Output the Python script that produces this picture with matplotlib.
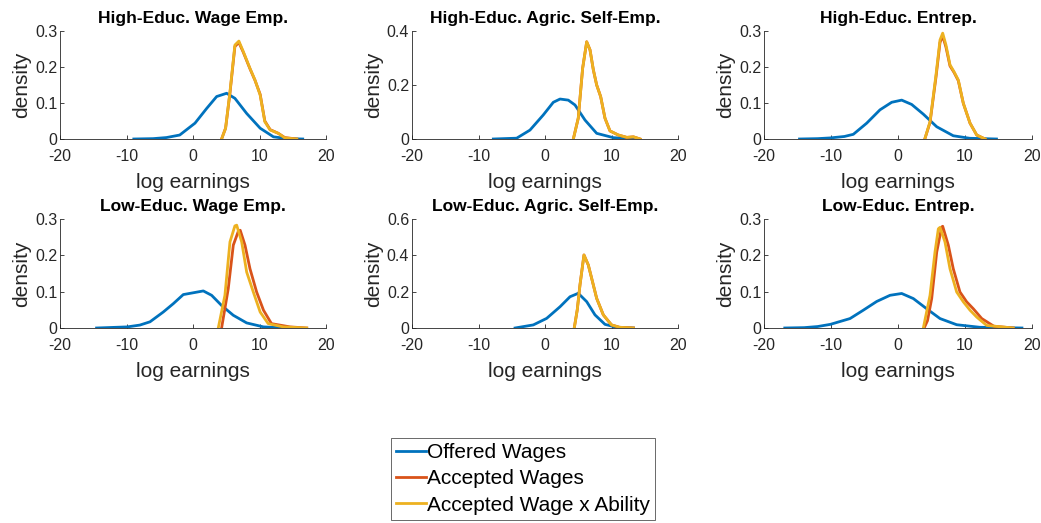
import numpy as np
import matplotlib.pyplot as plt
from matplotlib.ticker import FixedLocator

plt.rcParams['font.family'] = ['Liberation Sans', 'DejaVu Sans']

# MATLAB default line colours
C_OFF = '#0072BD'
C_ACC = '#D95319'
C_ABL = '#EDB120'

titles = ['High-Educ. Wage Emp.', 'High-Educ. Agric. Self-Emp.', 'High-Educ. Entrep.',
          'Low-Educ. Wage Emp.', 'Low-Educ. Agric. Self-Emp.', 'Low-Educ. Entrep.']
series_names = ['Offered Wages', 'Accepted Wages', 'Accepted Wage x Ability']

# ---- densities (x = log earnings, y = density) ----
# High-Educ. Wage Emp.
he_wage_off_x = [-8.9, -6.0, -4.0, -2.0, 0.3, 2.06, 3.56, 5.06, 6.3, 8.07, 10.1, 12.1, 14.2, 16.5]
he_wage_off_y = [0.0, 0.001, 0.004, 0.011, 0.044, 0.085, 0.118, 0.127, 0.113, 0.071, 0.030, 0.006, 0.001, 0.0]
he_wage_acc_x = [4.3, 4.9, 5.56, 6.3, 6.9, 7.56, 8.57, 9.32, 10.1, 10.8, 11.6, 12.8, 13.8, 15.6]
he_wage_acc_y = [0.0, 0.03, 0.128, 0.257, 0.268, 0.241, 0.195, 0.163, 0.124, 0.05, 0.026, 0.016, 0.004, 0.0]
he_wage_abl_x = [4.3, 4.9, 5.56, 6.3, 6.9, 7.56, 8.57, 9.32, 10.1, 10.8, 11.6, 12.8, 13.8, 15.6]
he_wage_abl_y = [0.0, 0.03, 0.131, 0.261, 0.272, 0.243, 0.196, 0.164, 0.122, 0.048, 0.025, 0.016, 0.003, 0.0]

# High-Educ. Agric. Self-Emp.
he_agr_off_x = [-7.77, -4.26, -2.26, -0.26, 1.25, 2.26, 3.5, 4.51, 6.02, 7.77, 10.27, 13.3]
he_agr_off_y = [0.0, 0.003, 0.033, 0.089, 0.136, 0.148, 0.144, 0.126, 0.07, 0.021, 0.005, 0.0]
he_agr_acc_x = [4.26, 5.0, 5.66, 6.27, 6.77, 7.27, 7.77, 8.37, 9.02, 9.77, 11.0, 12.3, 13.3, 14.3]
he_agr_acc_y = [0.0, 0.077, 0.262, 0.36, 0.33, 0.256, 0.2, 0.157, 0.077, 0.03, 0.015, 0.006, 0.008, 0.0]
he_agr_abl_x = [4.26, 5.0, 5.66, 6.27, 6.77, 7.27, 7.77, 8.37, 9.02, 9.77, 11.0, 12.3, 13.3, 14.3]
he_agr_abl_y = [0.0, 0.077, 0.262, 0.36, 0.33, 0.256, 0.2, 0.157, 0.077, 0.03, 0.015, 0.006, 0.008, 0.0]

# High-Educ. Entrep.
he_ent_off_x = [-14.7, -12.0, -10.1, -8.0, -6.67, -4.67, -2.69, -0.94, 0.55, 2.04, 3.78, 5.78, 8.25, 10.7, 14.7]
he_ent_off_y = [0.0, 0.001, 0.003, 0.007, 0.013, 0.044, 0.081, 0.102, 0.108, 0.096, 0.069, 0.034, 0.009, 0.002, 0.0]
he_ent_acc_x = [4.0, 4.78, 5.67, 6.27, 6.67, 7.16, 7.76, 8.36, 9.0, 9.75, 10.75, 11.75, 13.0]
he_ent_acc_y = [0.0, 0.046, 0.172, 0.268, 0.286, 0.255, 0.203, 0.185, 0.162, 0.099, 0.044, 0.011, 0.0]
he_ent_abl_x = [4.0, 4.78, 5.67, 6.27, 6.67, 7.16, 7.76, 8.36, 9.0, 9.75, 10.75, 11.75, 13.0]
he_ent_abl_y = [0.0, 0.048, 0.178, 0.275, 0.294, 0.261, 0.206, 0.187, 0.164, 0.099, 0.044, 0.011, 0.0]

# Low-Educ. Wage Emp.
le_wage_off_x = [-14.5, -9.9, -8.0, -6.47, -4.47, -2.96, -1.46, 0.05, 1.55, 2.8, 4.3, 6.06, 8.07, 10.6, 14.2]
le_wage_off_y = [0.0, 0.003, 0.008, 0.017, 0.044, 0.067, 0.092, 0.097, 0.102, 0.09, 0.062, 0.035, 0.014, 0.003, 0.0]
le_wage_acc_x = [4.3, 5.3, 6.06, 6.81, 7.1, 7.82, 8.57, 9.57, 10.6, 11.8, 14.6, 17.1]
le_wage_acc_y = [0.0, 0.108, 0.228, 0.266, 0.269, 0.228, 0.163, 0.099, 0.049, 0.012, 0.003, 0.0]
le_wage_abl_x = [3.8, 4.8, 5.56, 6.3, 6.57, 7.32, 8.07, 9.07, 10.1, 11.3, 13.6, 17.1]
le_wage_abl_y = [0.0, 0.09, 0.237, 0.281, 0.283, 0.237, 0.154, 0.099, 0.044, 0.012, 0.003, 0.0]

# Low-Educ. Agric. Self-Emp.
le_agr_off_x = [-4.5, -1.76, 0.25, 2.26, 3.76, 5.0, 6.27, 7.52, 9.02, 10.75, 13.3]
le_agr_off_y = [0.0, 0.017, 0.053, 0.117, 0.172, 0.191, 0.145, 0.072, 0.02, 0.004, 0.0]
le_agr_acc_x = [4.4, 4.85, 5.26, 5.86, 6.51, 7.02, 7.77, 8.77, 10.0, 11.2, 13.3]
le_agr_acc_y = [0.0, 0.1, 0.237, 0.402, 0.347, 0.273, 0.163, 0.072, 0.017, 0.004, 0.0]
le_agr_abl_x = [4.4, 4.85, 5.26, 5.86, 6.51, 7.02, 7.77, 8.77, 10.0, 11.2, 13.3]
le_agr_abl_y = [0.0, 0.1, 0.237, 0.402, 0.347, 0.273, 0.163, 0.072, 0.017, 0.004, 0.0]

# Low-Educ. Entrep.
le_ent_off_x = [-16.9, -14.0, -12.0, -10.1, -7.16, -5.18, -3.18, -1.19, 0.55, 2.29, 4.28, 6.27, 8.76, 12.2, 18.5]
le_ent_off_y = [0.0, 0.001, 0.004, 0.01, 0.026, 0.049, 0.073, 0.09, 0.095, 0.081, 0.053, 0.026, 0.009, 0.002, 0.0]
le_ent_acc_x = [3.9, 4.4, 5.03, 5.78, 6.52, 6.67, 7.51, 8.25, 9.25, 10.25, 11.24, 12.5, 14.3, 17.2]
le_ent_acc_y = [0.0, 0.02, 0.081, 0.209, 0.278, 0.28, 0.228, 0.163, 0.099, 0.072, 0.053, 0.026, 0.005, 0.0]
le_ent_abl_x = [3.78, 4.78, 5.52, 6.02, 6.27, 7.01, 7.76, 8.76, 9.75, 10.75, 11.75, 13.24, 17.2]
le_ent_abl_y = [0.0, 0.09, 0.209, 0.273, 0.277, 0.237, 0.163, 0.099, 0.072, 0.049, 0.03, 0.007, 0.0]

panels = [
    (he_wage_off_x, he_wage_off_y, he_wage_acc_x, he_wage_acc_y, he_wage_abl_x, he_wage_abl_y),
    (he_agr_off_x, he_agr_off_y, he_agr_acc_x, he_agr_acc_y, he_agr_abl_x, he_agr_abl_y),
    (he_ent_off_x, he_ent_off_y, he_ent_acc_x, he_ent_acc_y, he_ent_abl_x, he_ent_abl_y),
    (le_wage_off_x, le_wage_off_y, le_wage_acc_x, le_wage_acc_y, le_wage_abl_x, le_wage_abl_y),
    (le_agr_off_x, le_agr_off_y, le_agr_acc_x, le_agr_acc_y, le_agr_abl_x, le_agr_abl_y),
    (le_ent_off_x, le_ent_off_y, le_ent_acc_x, le_ent_acc_y, le_ent_abl_x, le_ent_abl_y),
]
y_ticks = [[0, 0.1, 0.2, 0.3], [0, 0.2, 0.4], [0, 0.1, 0.2, 0.3],
           [0, 0.1, 0.2, 0.3], [0, 0.2, 0.4, 0.6], [0, 0.1, 0.2, 0.3]]
x_ticks = [-20, -10, 0, 10, 20]

# axes boxes in pixels (left, right, top, bottom)
W, H = 1041, 523
cols = [(60, 326), (412, 678), (764, 1032)]
rows = [(31, 139), (219, 328)]

fig = plt.figure(figsize=(W / 100, H / 100), dpi=100)
AX_COL = '#262626'

lines = None
for i, p in enumerate(panels):
    l, r = cols[i % 3]
    t, b = rows[i // 3]
    ax = fig.add_axes([l / W, 1 - b / H, (r - l) / W, (b - t) / H])
    h1, = ax.plot(p[0], p[1], color=C_OFF, lw=2, solid_joinstyle='round')
    h2, = ax.plot(p[2], p[3], color=C_ACC, lw=2, solid_joinstyle='round')
    h3, = ax.plot(p[4], p[5], color=C_ABL, lw=2, solid_joinstyle='round')
    lines = [h1, h2, h3]
    yt = y_ticks[i]
    ax.set_xlim(-20, 20)
    ax.set_ylim(yt[0], yt[-1])
    ax.xaxis.set_major_locator(FixedLocator(x_ticks))
    ax.yaxis.set_major_locator(FixedLocator(yt))
    ax.set_xticklabels([f'{v:g}' for v in x_ticks])
    ax.set_yticklabels([f'{v:g}' for v in yt])
    for s in ['top', 'right']:
        ax.spines[s].set_visible(False)
    for s in ['left', 'bottom']:
        ax.spines[s].set_color(AX_COL)
        ax.spines[s].set_linewidth(0.6)
    ax.tick_params(direction='in', length=3, width=0.6, colors=AX_COL, labelsize=11.5)
    ax.tick_params(axis='x', pad=7.5)
    ax.tick_params(axis='y', pad=2)
    ax.set_title(titles[i], fontsize=12.5, fontweight='bold', pad=5.5)
    ax.set_xlabel('log earnings', fontsize=15, color=AX_COL, labelpad=6.5)
    ax.set_ylabel('density', fontsize=15, color=AX_COL, labelpad=3)

leg = fig.legend(lines, series_names, loc='center', bbox_to_anchor=(523 / W, 1 - 479 / H),
                 fontsize=15, frameon=True, fancybox=False, handlelength=1.45,
                 handletextpad=0.05, borderpad=0.25, labelspacing=0.35, borderaxespad=0)
leg.get_frame().set_edgecolor(AX_COL)
leg.get_frame().set_linewidth(0.6)

fig.savefig('out.png', dpi=100)
